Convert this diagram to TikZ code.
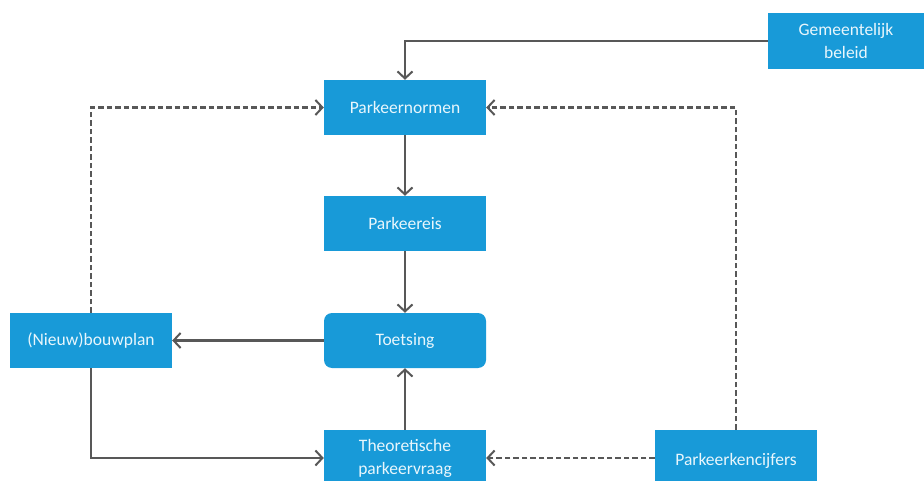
\documentclass[tikz,border=0pt]{standalone}
\usepackage{fontspec}
\setmainfont{Carlito}
\usetikzlibrary{arrows.meta}
\definecolor{boxblue}{RGB}{24,154,216}
\definecolor{boxtext}{RGB}{232,246,252}
\definecolor{linegray}{RGB}{88,88,88}
\begin{document}
\begin{tikzpicture}[x=1pt,y=-1pt,
  box/.style={fill=boxblue, text=boxtext, font=\fontsize{17.5}{23}\selectfont, align=center, inner sep=0pt, minimum width=162pt, minimum height=55pt},
  conn/.style={draw=linegray, line width=2.3pt, -{Straight Barb[length=7pt,width=15pt,line width=2pt]}},
  dconn/.style={conn, dash pattern=on 5.5pt off 3pt}]
\useasboundingbox (0,0) rectangle (924,481);
\clip (0,0) rectangle (924,481);
\node[box, minimum width=156pt, minimum height=56pt] (gem) at (846,41) {Gemeentelijk\\beleid};
\node[box] (pn) at (405,107.5) {Parkeernormen};
\node[box] (pe) at (405,223.5) {Parkeereis};
\node[box, rounded corners=8pt] (ts) at (405,340.5) {Toetsing};
\node[box] (bp) at (91,340.5) {(Nieuw)bouwplan};
\node[box, minimum height=56pt] (tv) at (405,458) {Theoretische\\parkeervraag};
\node[box, minimum height=76pt] (pk) at (736,468) {};
\node[text=boxtext, font=\fontsize{17.5}{23}\selectfont] (pkt) at (736,461) {Parkeerkencijfers};
\draw[conn] (gem.west) -| (pn.north);
\draw[conn] (pn.south) -- (pe.north);
\draw[conn] (pe.south) -- (ts.north);
\draw[conn] (ts.west) -- (bp.east);
\draw[conn] (tv.north) -- (ts.south);
\draw[conn] (bp.south) |- (tv.west);
\draw[dconn] (bp.north) |- (pn.west);
\draw[dconn] (pk.north) |- (pn.east);
\draw[dconn] (pk.west |- tv.east) -- (tv.east);
\end{tikzpicture}
\end{document}
